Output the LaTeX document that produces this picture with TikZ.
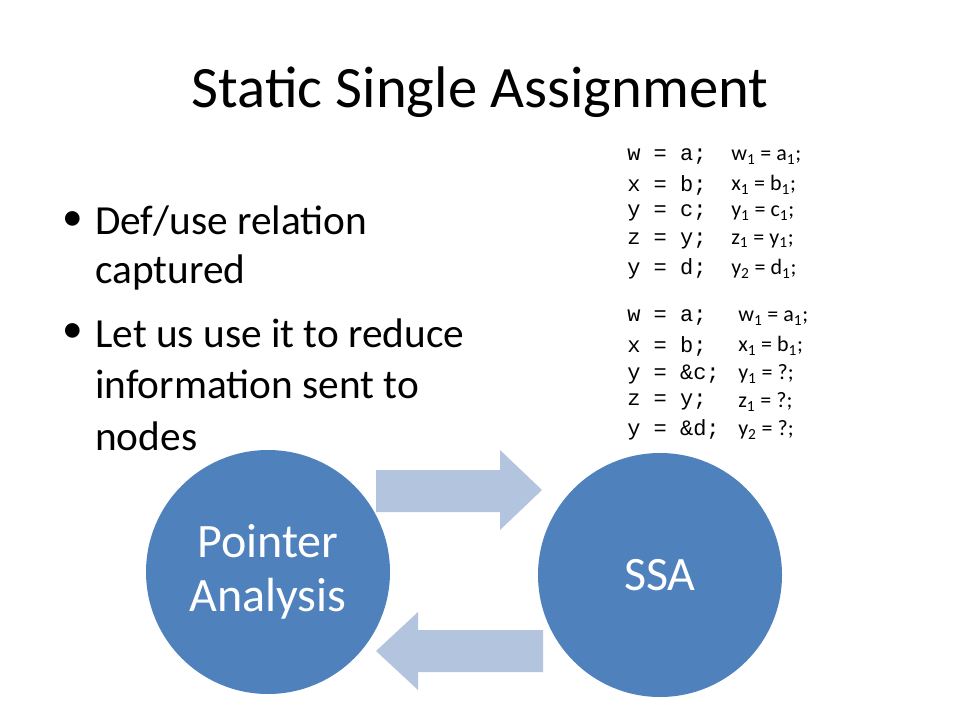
\documentclass[tikz,border=0pt]{standalone}
\usepackage{fontspec}
\setmainfont{Carlito}
\setmonofont{Liberation Mono}
\usetikzlibrary{positioning}
\definecolor{ssablue}{HTML}{4F81BD}
\definecolor{arrowblue}{HTML}{B3C4DF}
\tikzset{
	stage/.style={circle, fill=ssablue, text=white, minimum size=183pt, inner sep=0pt, align=center, font=\fontsize{36}{40}\selectfont},
	code/.style={anchor=west, inner sep=0pt, font=\ttfamily\fontsize{16.5}{18}\selectfont},
	ssa/.style={anchor=west, inner sep=0pt, font=\fontsize{16.5}{18}\selectfont},
	bullet/.style={anchor=west, inner sep=0pt, font=\fontsize{31}{34}\selectfont},
	fatarrow/.style={fill=arrowblue},
}
\begin{document}
\begin{tikzpicture}[x=0.75pt, y=-0.75pt]
	\useasboundingbox (0,0) rectangle (960,720);
	
	\node (title) at (480,92) [font=\fontsize{44}{48}\selectfont] {Static Single Assignment};
	
	% bullets
	\node (b1) at (62,221) [bullet] {\textbullet};
	\node (t1) at (95,221) [bullet] {Def/use relation};
	\node (t2) at (95,272) [bullet] {captured};
	\node (b2) at (62,333) [bullet] {\textbullet};
	\node (t3) at (95,333) [bullet] {Let us use it to reduce};
	\node (t4) at (95,384) [bullet] {information sent to};
	\node (t5) at (95,436) [bullet] {nodes};
	
	% code
	\node (c1) at (627,157) [code] {w = a;};
	\node (c2) at (627,185) [code] {x = b;};
	\node (c3) at (627,213) [code] {y = c;};
	\node (c4) at (627,241) [code] {z = y;};
	\node (c5) at (627,269) [code] {y = d;};
	\node (s1) at (731,157) [ssa] {w\textsubscript{1} = a\textsubscript{1};};
	\node (s2) at (731,185) [ssa] {x\textsubscript{1} = b\textsubscript{1};};
	\node (s3) at (731,213) [ssa] {y\textsubscript{1} = c\textsubscript{1};};
	\node (s4) at (731,241) [ssa] {z\textsubscript{1} = y\textsubscript{1};};
	\node (s5) at (731,269) [ssa] {y\textsubscript{2} = d\textsubscript{1};};
	
	\node (d1) at (627,318) [code] {w = a;};
	\node (d2) at (627,346) [code] {x = b;};
	\node (d3) at (627,374) [code] {y = \&c;};
	\node (d4) at (627,402) [code] {z = y;};
	\node (d5) at (627,430) [code] {y = \&d;};
	\node (r1) at (738,318) [ssa] {w\textsubscript{1} = a\textsubscript{1};};
	\node (r2) at (738,346) [ssa] {x\textsubscript{1} = b\textsubscript{1};};
	\node (r3) at (738,374) [ssa] {y\textsubscript{1} = ?;};
	\node (r4) at (738,402) [ssa] {z\textsubscript{1} = ?;};
	\node (r5) at (738,430) [ssa] {y\textsubscript{2} = ?;};
	
	% circles
	\node (pa) at (268,572) [stage] {Pointer\\Analysis};
	\node (ssa) at (660,575) [stage] {SSA};
	
	% arrows
	\fill[fatarrow] (376,470) -- (500,470) -- (500,450) -- (542,490) -- (500,530) -- (500,512) -- (376,512) -- cycle;
	\fill[fatarrow] (543,630) -- (418,630) -- (418,612) -- (376,651) -- (418,690) -- (418,672) -- (543,672) -- cycle;
	
\end{tikzpicture}
\end{document}
